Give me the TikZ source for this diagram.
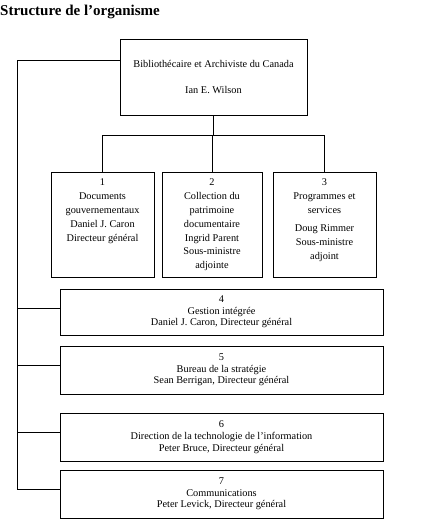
\documentclass[tikz,border=0pt]{standalone}
\usepackage{fontspec}
\setmainfont{Liberation Serif}
\begin{document}
\begin{tikzpicture}[x=1pt,y=-1pt,
  box/.style={draw, line width=0.8pt, inner sep=0pt, align=center,
    font=\fontsize{10.3}{11.7}\selectfont},
  tallbox/.style={box, minimum height=105pt, font=\fontsize{10.3}{13.8}\selectfont},
  conn/.style={line width=0.8pt},
  title/.style={font=\fontsize{15}{17}\selectfont\bfseries, anchor=base west, inner sep=0pt}]
\useasboundingbox (0,0) rectangle (446,531);
\node[title] (t) at (0,15) {Structure de l’organisme};
\node[box, minimum width=187pt, minimum height=76pt] (top) at (213.5,77)
  {Bibliothécaire et Archiviste du Canada\\[15pt]Ian E. Wilson};
\node[tallbox, minimum width=103pt] (b1) at (102.5,224.5)
  {\parbox[c][105pt][t]{100pt}{\centering\vspace*{7pt}1\\Documents\\gouvernementaux\\Daniel J. Caron\\Directeur général}};
\node[tallbox, minimum width=100pt] (b2) at (212,224.5)
  {\parbox[c][105pt][t]{97pt}{\centering\vspace*{7pt}2\\Collection du\\patrimoine\\documentaire\\Ingrid Parent\\Sous-ministre\\adjointe}};
\node[tallbox, minimum width=103pt] (b3) at (324.5,224.5)
  {\parbox[c][105pt][t]{100pt}{\centering\vspace*{7pt}3\\Programmes et\\services\\[4.5pt]Doug Rimmer\\Sous-ministre\\adjoint}};
\node[box, minimum width=323pt, minimum height=46pt] (b4) at (221.5,312)
  {4\\Gestion intégrée\\Daniel J. Caron, Directeur général};
\node[box, minimum width=323pt, minimum height=48pt] (b5) at (221.5,370)
  {5\\Bureau de la stratégie\\Sean Berrigan, Directeur général};
\node[box, minimum width=323pt, minimum height=48pt] (b6) at (221.5,437)
  {6\\Direction de la technologie de l’information\\Peter Bruce, Directeur général};
\node[box, minimum width=323pt, minimum height=48pt] (b7) at (221.5,494)
  {7\\Communications\\Peter Levick, Directeur général};
\coordinate (s0) at (17,60);
\coordinate (s1) at (17,489);
\coordinate (bar) at (213,135);
\draw[conn] (s0 -| top.west) -- (s0) -- (s1) -- (s1 -| b7.west);
\draw[conn] ([yshift=4pt]b4.west) -- ([yshift=4pt]b4.west -| s0);
\draw[conn] ([yshift=5pt]b5.west) -- ([yshift=5pt]b5.west -| s0);
\draw[conn] ([yshift=5pt]b6.west) -- ([yshift=5pt]b6.west -| s0);
\draw[conn] (top.south) -- (top.south |- bar);
\draw[conn] (b1.north) -- (b1.north |- bar) -- (b3.north |- bar) -- (b3.north);
\draw[conn] (b2.north) -- (b2.north |- bar);
\end{tikzpicture}
\end{document}
